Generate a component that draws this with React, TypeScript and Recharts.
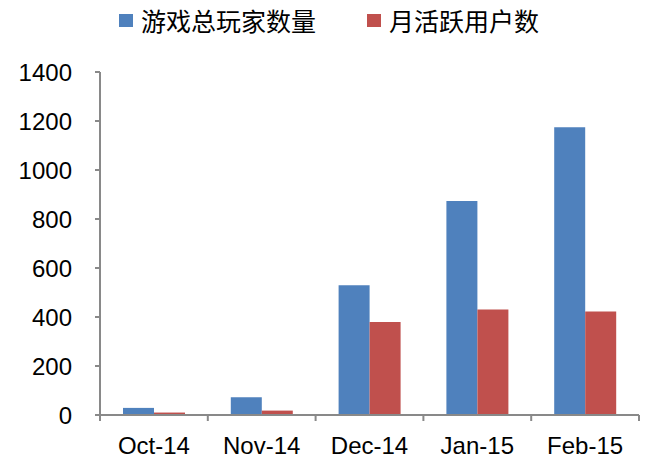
import { BarChart, Bar, XAxis, YAxis } from "recharts";

const months = ["Oct-14", "Nov-14", "Dec-14", "Jan-15", "Feb-15"];
const totalPlayers = [29, 72, 530, 873, 1175];
const monthlyActive = [10, 18, 380, 431, 422];
const yTicks = [0, 200, 400, 600, 800, 1000, 1200, 1400];

const series = [
  { key: "total", name: "游戏总玩家数量", color: "#4F81BD", left: 119 },
  { key: "active", name: "月活跃用户数", color: "#C0504D", left: 367 },
];

const data = months.map((month, i) => ({
  month,
  total: totalPlayers[i],
  active: monthlyActive[i],
}));

const axisColor = "#898989";
const fontFamily = "'Liberation Sans', Arial, sans-serif";

// category label plus a tick mark on the band boundary (Excel style)
const MonthTick = (props: any) => {
  const { x, y, payload, index, visibleTicksCount } = props;
  const half = payload.offset || 0;
  const axisY = y - 22;
  return (
    <g>
      <line x1={x - half} x2={x - half} y1={axisY} y2={axisY + 6} stroke={axisColor} strokeWidth={2} />
      {index === visibleTicksCount - 1 && (
        <line x1={x + half} x2={x + half} y1={axisY} y2={axisY + 6} stroke={axisColor} strokeWidth={2} />
      )}
      <text x={x} y={y} dy="0.71em" textAnchor="middle" fontSize={24} fill="#000" fontFamily={fontFamily}>
        {payload.value}
      </text>
    </g>
  );
};

const App = () => {
  return (
    <div style={{ position: "absolute", left: 0, top: 0, width: 648, height: 463, background: "#fff" }}>
      {series.map((s) => (
        <div
          key={s.key}
          style={{
            position: "absolute",
            left: s.left,
            top: 4,
            height: 32,
            display: "flex",
            alignItems: "center",
            fontFamily: "'Noto Sans CJK SC', sans-serif",
            fontSize: 25,
            color: "#000",
            whiteSpace: "nowrap",
          }}
        >
          <span style={{ width: 14, height: 13, background: s.color, marginRight: 8 }} />
          {s.name}
        </div>
      ))}
      <BarChart
        width={648}
        height={463}
        data={data}
        margin={{ top: 72, right: 9, bottom: 0, left: 0 }}
        barGap={0}
      >
        <XAxis
          dataKey="month"
          height={48}
          tickLine={false}
          tickSize={6}
          tickMargin={16}
          interval={0}
          axisLine={{ stroke: axisColor, strokeWidth: 2 }}
          tick={<MonthTick />}
        />
        <YAxis
          domain={[0, 1400]}
          ticks={yTicks}
          width={100}
          tickSize={5}
          tickMargin={23}
          interval={0}
          axisLine={{ stroke: axisColor, strokeWidth: 2 }}
          tickLine={{ stroke: axisColor, strokeWidth: 2 }}
          tick={{ fontSize: 24, fill: "#000", fontFamily }}
        />
        {series.map((s) => (
          <Bar
            key={s.key}
            dataKey={s.key}
            name={s.name}
            fill={s.color}
            barSize={31}
            isAnimationActive={false}
          />
        ))}
      </BarChart>
    </div>
  );
};

export default App;
